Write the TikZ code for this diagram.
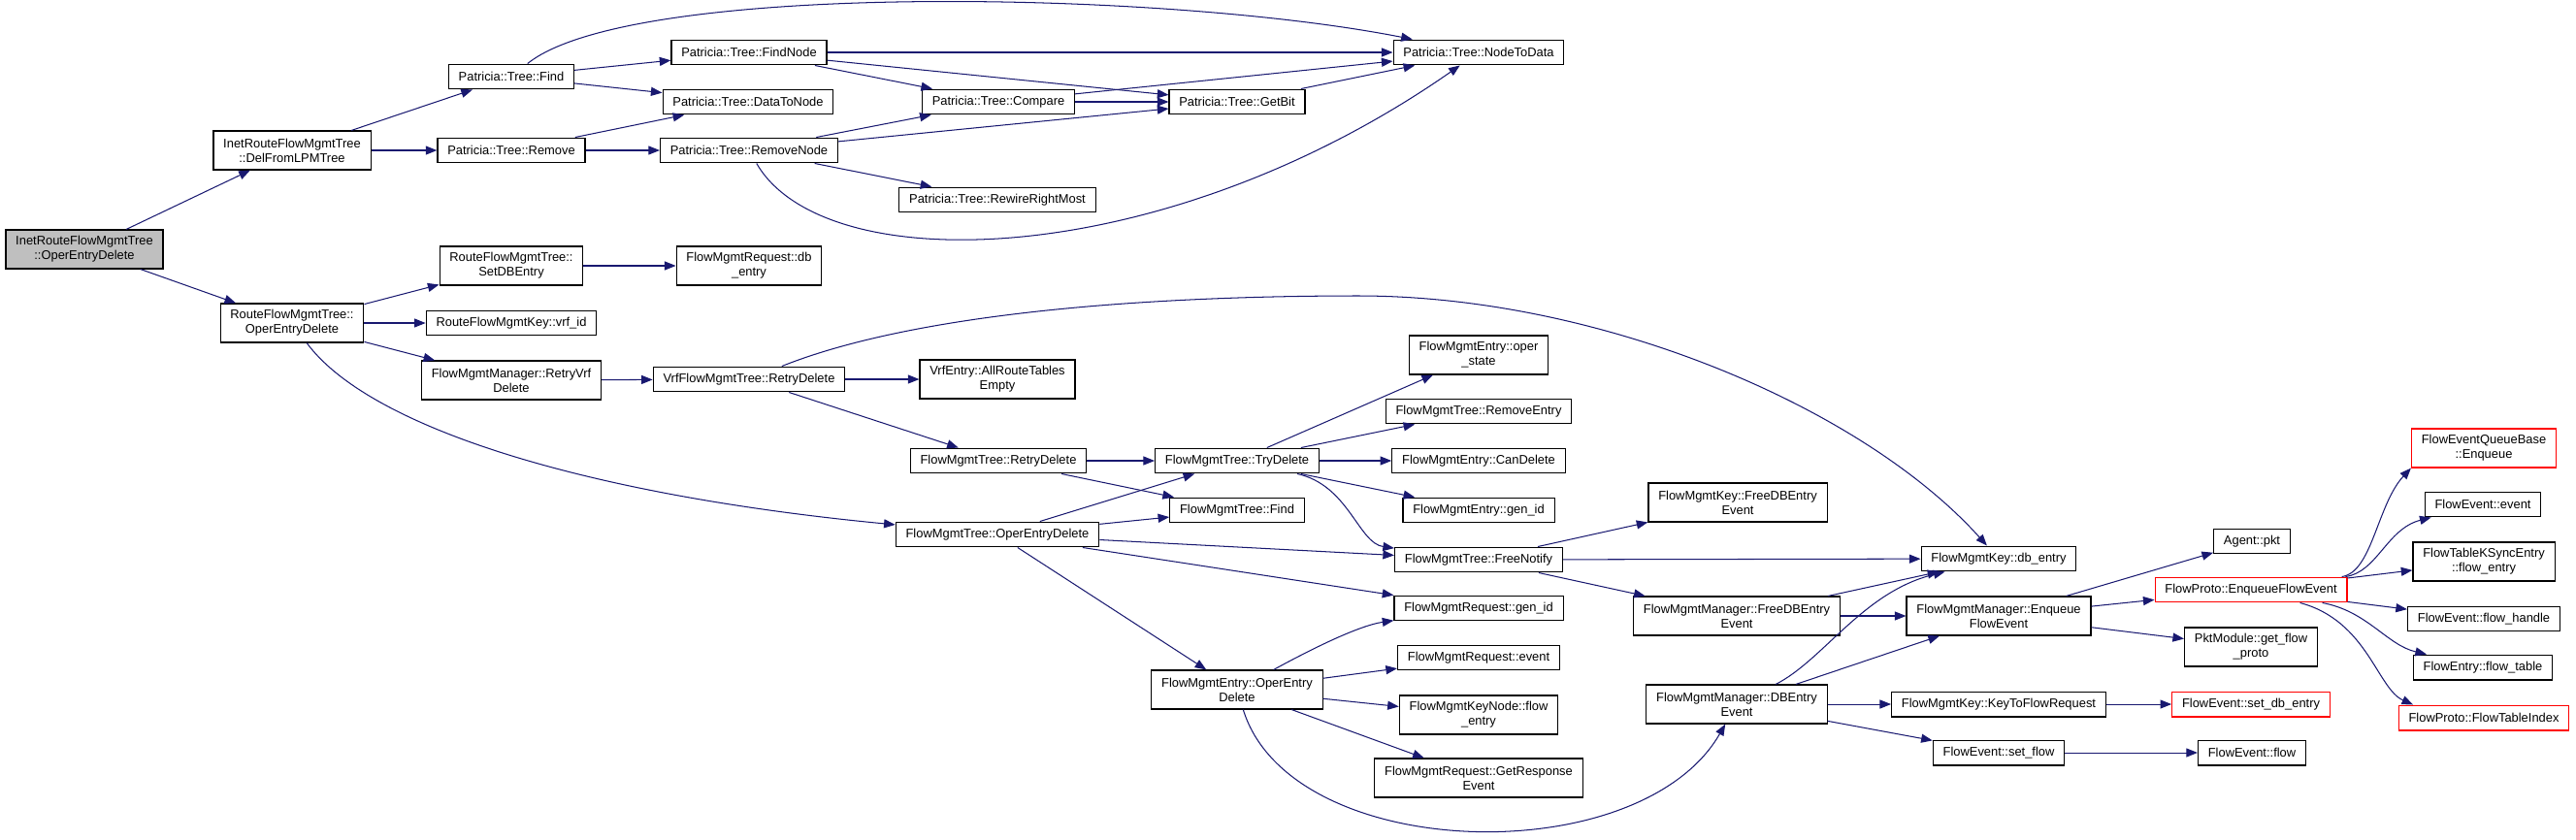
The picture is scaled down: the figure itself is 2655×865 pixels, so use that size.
\documentclass[tikz,border=0pt]{standalone}
\usepackage{fontspec}
\setmainfont{Liberation Sans}
\usetikzlibrary{arrows.meta}
\definecolor{callNavy}{RGB}{25,25,112}
\definecolor{rootGray}{RGB}{191,191,191}

\begin{document}
\begin{tikzpicture}[
      x=0.775pt, y=-0.775pt,
      fn/.style={draw=black, line width=0.9pt, fill=white, align=center, font=\fontsize{10}{11.6}\selectfont, inner xsep=8pt, inner ysep=1pt, minimum height=20pt},
      fntwo/.style={fn, minimum height=31pt},
      rootfn/.style={fntwo, fill=rootGray},
      redfn/.style={fn, draw=red},
      call/.style={-{Triangle[length=9pt,width=7pt]}, line width=0.8pt, callNavy}
    ]
      \useasboundingbox (0,0) rectangle (2655,865);
      % column 1-2
      \node[rootfn] (root) at (87,257) {InetRouteFlowMgmtTree\\::OperEntryDelete};
      \node[fntwo] (dellpm) at (301,155) {InetRouteFlowMgmtTree\\::DelFromLPMTree};
      \node[fntwo] (rfmtoper) at (301,333) {RouteFlowMgmtTree::\\OperEntryDelete};
      % column 3
      \node[fn] (find) at (527,79) {Patricia::Tree::Find};
      \node[fn] (remove) at (527,155) {Patricia::Tree::Remove};
      \node[fntwo] (setdb) at (527,274) {RouteFlowMgmtTree::\\SetDBEntry};
      \node[fn] (vrfid) at (527,333) {RouteFlowMgmtKey::vrf\_id};
      \node[fntwo] (retryvrf) at (527,392) {FlowMgmtManager::RetryVrf\\Delete};
      % column 4
      \node[fn] (findnode) at (772,54) {Patricia::Tree::FindNode};
      \node[fn] (datatonode) at (771,105) {Patricia::Tree::DataToNode};
      \node[fn] (removenode) at (772,155) {Patricia::Tree::RemoveNode};
      \node[fntwo] (reqdb) at (772,274) {FlowMgmtRequest::db\\\_entry};
      \node[fn] (vrfretry) at (772,391) {VrfFlowMgmtTree::RetryDelete};
      % column 5
      \node[fn] (compare) at (1029,105) {Patricia::Tree::Compare};
      \node[fn] (rewire) at (1028,206) {Patricia::Tree::RewireRightMost};
      \node[fntwo] (allroute) at (1028,391) {VrfEntry::AllRouteTables\\Empty};
      \node[fn] (fmtretry) at (1029,475) {FlowMgmtTree::RetryDelete};
      \node[fn] (fmtoper) at (1028,551) {FlowMgmtTree::OperEntryDelete};
      % column 6
      \node[fn] (getbit) at (1275,105) {Patricia::Tree::GetBit};
      \node[fn] (trydel) at (1275,475) {FlowMgmtTree::TryDelete};
      \node[fn] (fmtfind) at (1275,526) {FlowMgmtTree::Find};
      \node[fntwo] (entryoper) at (1275,711) {FlowMgmtEntry::OperEntry\\Delete};
      % column 7
      \node[fn] (nodetodata) at (1524,54) {Patricia::Tree::NodeToData};
      \node[fntwo] (operstate) at (1524,366) {FlowMgmtEntry::oper\\\_state};
      \node[fn] (removeentry) at (1524,424) {FlowMgmtTree::RemoveEntry};
      \node[fn] (candelete) at (1524,475) {FlowMgmtEntry::CanDelete};
      \node[fn] (entrygenid) at (1524,526) {FlowMgmtEntry::gen\_id};
      \node[fn] (freenotify) at (1524,577) {FlowMgmtTree::FreeNotify};
      \node[fn] (reqgenid) at (1524,627) {FlowMgmtRequest::gen\_id};
      \node[fn] (reqevent) at (1524,678) {FlowMgmtRequest::event};
      \node[fntwo] (keynode) at (1524,737) {FlowMgmtKeyNode::flow\\\_entry};
      \node[fntwo] (getresp) at (1524,802) {FlowMgmtRequest::GetResponse\\Event};
      % column 8
      \node[fntwo] (keyfreedb) at (1791,518) {FlowMgmtKey::FreeDBEntry\\Event};
      \node[fntwo] (mgrfreedb) at (1790,635) {FlowMgmtManager::FreeDBEntry\\Event};
      \node[fntwo] (mgrdb) at (1790,726) {FlowMgmtManager::DBEntry\\Event};
      % column 9
      \node[fn] (keydb) at (2060,576) {FlowMgmtKey::db\_entry};
      \node[fntwo] (mgrenq) at (2060,635) {FlowMgmtManager::Enqueue\\FlowEvent};
      \node[fn] (keytoflow) at (2060,726) {FlowMgmtKey::KeyToFlowRequest};
      \node[fn] (setflow) at (2060,776) {FlowEvent::set\_flow};
      % column 10
      \node[fn] (agentpkt) at (2321,558) {Agent::pkt};
      \node[redfn] (protoenq) at (2320,608) {FlowProto::EnqueueFlowEvent};
      \node[fntwo] (pktmod) at (2320,667) {PktModule::get\_flow\\\_proto};
      \node[redfn] (setdbentry) at (2320,726) {FlowEvent::set\_db\_entry};
      \node[fn] (eventflow) at (2321,776) {FlowEvent::flow};
      % column 11
      \node[fntwo, draw=red] (queueenq) at (2560,462) {FlowEventQueueBase\\::Enqueue};
      \node[fn] (evevent) at (2559,520) {FlowEvent::event};
      \node[fntwo] (ksync) at (2560,579) {FlowTableKSyncEntry\\::flow\_entry};
      \node[fn] (flowhandle) at (2560,638) {FlowEvent::flow\_handle};
      \node[fn] (flowtable) at (2559,688) {FlowEntry::flow\_table};
      \node[redfn] (tableindex) at (2560,740) {FlowProto::FlowTableIndex};

      \draw[call] (root) -- (dellpm);
      \draw[call] (root) -- (rfmtoper);
      \draw[call] (dellpm) -- (find);
      \draw[call] (dellpm) -- (remove);
      \draw[call] (find) .. controls (650,-20) and (1200,-10) .. (nodetodata);
      \draw[call] (find) -- (findnode);
      \draw[call] (find) -- (datatonode);
      \draw[call] (remove) -- (datatonode);
      \draw[call] (remove) -- (removenode);
      \draw[call] (findnode) -- (nodetodata);
      \draw[call] (findnode) -- (compare);
      \draw[call] (findnode) -- (getbit);
      \draw[call] (compare) -- (nodetodata);
      \draw[call] (compare) -- (getbit);
      \draw[call] (getbit) -- (nodetodata);
      \draw[call] (removenode) -- (compare);
      \draw[call] (removenode) -- (getbit);
      \draw[call] (removenode) -- (rewire);
      \draw[call] (removenode) .. controls (850,290) and (1200,280) .. (nodetodata);
      \draw[call] (rfmtoper) -- (setdb);
      \draw[call] (rfmtoper) -- (vrfid);
      \draw[call] (rfmtoper) -- (retryvrf);
      \draw[call] (rfmtoper) .. controls (380,440) and (600,510) .. (fmtoper);
      \draw[call] (setdb) -- (reqdb);
      \draw[call] (retryvrf) -- (vrfretry);
      \draw[call] (vrfretry) -- (allroute);
      \draw[call] (vrfretry) -- (fmtretry);
      \draw[call] (vrfretry) .. controls (950,320) and (1200,305) .. (1400,305)
        .. controls (1650,305) and (1920,420) .. (keydb);
      \draw[call] (fmtretry) -- (trydel);
      \draw[call] (fmtretry) -- (fmtfind);
      \draw[call] (trydel) -- (operstate);
      \draw[call] (trydel) -- (removeentry);
      \draw[call] (trydel) -- (candelete);
      \draw[call] (trydel) -- (entrygenid);
      \draw[call] (trydel) .. controls (1390,500) and (1400,560) .. (freenotify);
      \draw[call] (fmtoper) -- (trydel);
      \draw[call] (fmtoper) -- (fmtfind);
      \draw[call] (fmtoper) -- (freenotify);
      \draw[call] (fmtoper) -- (reqgenid);
      \draw[call] (fmtoper) -- (entryoper);
      \draw[call] (freenotify) -- (keyfreedb);
      \draw[call] (freenotify) -- (keydb);
      \draw[call] (freenotify) -- (mgrfreedb);
      \draw[call] (entryoper) .. controls (1350,670) and (1400,645) .. (reqgenid);
      \draw[call] (entryoper) -- (reqevent);
      \draw[call] (entryoper) -- (keynode);
      \draw[call] (entryoper) -- (getresp);
      \draw[call] (entryoper) .. controls (1330,890) and (1690,900) .. (mgrdb);
      \draw[call] (mgrfreedb) -- (keydb);
      \draw[call] (mgrfreedb) -- (mgrenq);
      \draw[call] (mgrdb) .. controls (1880,680) and (1920,610) .. (keydb);
      \draw[call] (mgrdb) -- (mgrenq);
      \draw[call] (mgrdb) -- (keytoflow);
      \draw[call] (mgrdb) -- (setflow);
      \draw[call] (mgrenq) -- (agentpkt);
      \draw[call] (mgrenq) -- (protoenq);
      \draw[call] (mgrenq) -- (pktmod);
      \draw[call] (keytoflow) -- (setdbentry);
      \draw[call] (setflow) -- (eventflow);
      \draw[call] (protoenq) .. controls (2445,590) and (2450,520) .. (queueenq.south west);
      \draw[call] (protoenq) .. controls (2450,590) and (2460,545) .. (evevent);
      \draw[call] (protoenq) -- (ksync);
      \draw[call] (protoenq) -- (flowhandle);
      \draw[call] (protoenq) .. controls (2440,630) and (2460,665) .. (flowtable);
      \draw[call] (protoenq) .. controls (2440,640) and (2450,710) .. ([xshift=12pt]tableindex.north west);
    \end{tikzpicture}
\end{document}
